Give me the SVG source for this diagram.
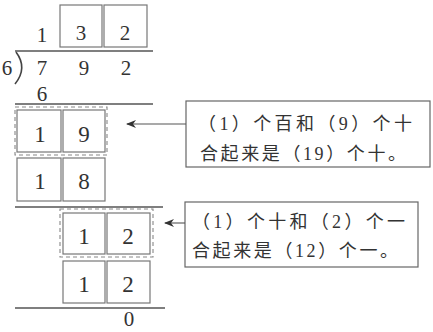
<svg xmlns="http://www.w3.org/2000/svg" width="433" height="332" viewBox="0 0 433 332">
<defs>
<style>
.num{font-family:"Liberation Serif","DejaVu Serif",serif;font-size:21px;fill:#333;text-anchor:middle}
.big{font-size:23px}
.box{fill:none;stroke:#777;stroke-width:1.2}
.dash{fill:none;stroke:#888;stroke-width:1.1;stroke-dasharray:4 3}
.rule{stroke:#555;stroke-width:1.3}
.note{fill:#fff;stroke:#666;stroke-width:1.2}
.cn{font-family:"Liberation Serif","Noto Sans CJK SC",sans-serif;font-size:18px;fill:#333}
.conn{stroke:#555;stroke-width:1.1}
</style>
<marker id="ah" viewBox="0 0 10 8" refX="9" refY="4" markerWidth="10" markerHeight="8" markerUnits="userSpaceOnUse" orient="auto">
<path d="M0,0 L10,4 L0,8 L3,4 Z" fill="#333"/>
</marker>
</defs>
<g id="division">
<text class="num" x="42" y="42">1</text>
<rect class="box" x="60" y="5" width="42" height="42"/>
<text class="num" x="81" y="40">3</text>
<rect class="box" x="104" y="5" width="43" height="42"/>
<text class="num" x="125" y="40">2</text>
<line class="rule" x1="15" y1="51" x2="153" y2="51"/>
<text class="num" x="7" y="75">6</text>
<path d="M16,52 Q28,68 15,84" fill="none" stroke="#444" stroke-width="1.6"/>
<text class="num" x="42" y="75">7</text>
<text class="num" x="84" y="75">9</text>
<text class="num" x="126" y="75">2</text>
<text class="num" x="42" y="101">6</text>
<line class="rule" x1="15" y1="104" x2="153" y2="104"/>
</g>
<g id="step1">
<rect class="dash" x="15" y="107" width="92" height="48"/>
<rect class="box" x="17" y="110" width="44" height="42"/>
<text class="num big" x="40" y="142">1</text>
<rect class="box" x="63" y="110" width="42" height="42"/>
<text class="num big" x="84" y="142">9</text>
<rect class="box" x="17" y="158" width="44" height="43"/>
<text class="num big" x="40" y="189">1</text>
<rect class="box" x="63" y="158" width="42" height="43"/>
<text class="num big" x="84" y="189">8</text>
<line class="rule" x1="15" y1="207" x2="163" y2="207"/>
</g>
<g id="step2">
<rect class="dash" x="60" y="209" width="93" height="48"/>
<rect class="box" x="63" y="213" width="42" height="41"/>
<text class="num big" x="84" y="244">1</text>
<rect class="box" x="107" y="213" width="43" height="41"/>
<text class="num big" x="128" y="244">2</text>
<rect class="box" x="63" y="261" width="42" height="42"/>
<text class="num big" x="84" y="292">1</text>
<rect class="box" x="107" y="261" width="43" height="42"/>
<text class="num big" x="128" y="292">2</text>
<line class="rule" x1="15" y1="308" x2="165" y2="308"/>
<text class="num" x="129" y="326">0</text>
</g>
<g id="note1">
<rect class="note" x="186" y="101" width="244" height="66"/>
<text class="cn" x="198" y="130" textLength="214" lengthAdjust="spacing">（1）个百和（9）个十</text>
<text class="cn" x="200" y="160" textLength="206" lengthAdjust="spacing">合起来是（19）个十。</text>
</g>
<g id="note2">
<rect class="note" x="185" y="202" width="233" height="65"/>
<text class="cn" x="192" y="228" textLength="213" lengthAdjust="spacing">（1）个十和（2）个一</text>
<text class="cn" x="192" y="257" textLength="206" lengthAdjust="spacing">合起来是（12）个一。</text>
</g>
<g id="connectors">
<line class="conn" x1="186" y1="124" x2="127" y2="124" marker-end="url(#ah)"/>
<line class="conn" x1="185" y1="223" x2="165" y2="223" marker-end="url(#ah)"/>
</g>
</svg>
